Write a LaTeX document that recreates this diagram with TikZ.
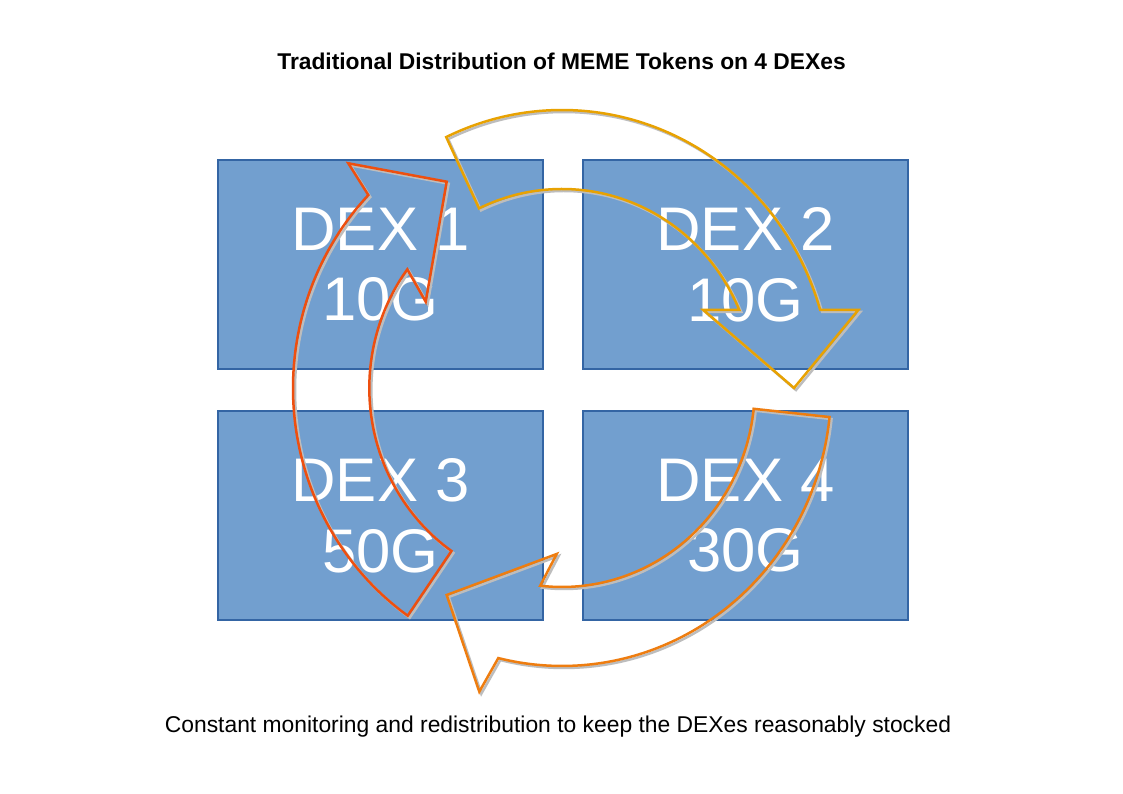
\documentclass[tikz,border=0pt]{standalone}
\usepackage{fontspec}
\setmainfont{Liberation Sans}
\definecolor{boxfill}{HTML}{729FCF}
\definecolor{boxline}{HTML}{3465A4}
\definecolor{arrowgold}{HTML}{E8A202}
\definecolor{arrowred}{HTML}{EE4F0F}
\definecolor{arroworange}{HTML}{EE7D10}
\definecolor{shadowgray}{HTML}{BDBDBD}

% circular arrow segments, relative to the common ellipse centre
\newcommand\dexArrowTop[1]{%
  \draw[#1] (115.5:269 and 278)
    arc[start angle=115.5, end angle=16.3, x radius=269, y radius=278]
    -- (296.3,78) -- (232,0) -- (141.3,78)
    -- (23.1:192.7 and 199)
    arc[start angle=23.1, end angle=115.5, x radius=192.7, y radius=199]
    -- cycle;}
\newcommand\dexArrowLeft[1]{%
  \draw[#1] (235:269 and 278)
    arc[start angle=235, end angle=136.05, x radius=269, y radius=278]
    -- (-213.7,224.7) -- (-115.3,206.3) -- (-136.3,86.3)
    -- (143.4:192.7 and 199)
    arc[start angle=143.4, end angle=235, x radius=192.7, y radius=199]
    -- cycle;}
\newcommand\dexArrowBottom[1]{%
  \draw[#1] (-6:269 and 278)
    arc[start angle=-6, end angle=-103.7, x radius=269, y radius=278]
    -- (-82.7,-303.7) -- (-115.3,-207) -- (-5.3,-166)
    -- (-96.5:192.7 and 199)
    arc[start angle=-96.5, end angle=-6, x radius=192.7, y radius=199]
    -- cycle;}

\begin{document}
\begin{tikzpicture}[x=1pt,y=1pt,
  dexbox/.style={draw=boxline, fill=boxfill, line width=2pt,
    minimum width=325pt, minimum height=209pt, inner sep=0pt,
    text=white, align=center, font=\fontsize{61.6}{70.7}\selectfont},
  titletext/.style={font=\bfseries\fontsize{22.8}{27}\selectfont, inner sep=0pt},
  captext/.style={font=\fontsize{22.85}{27}\selectfont, inner sep=0pt},
  shadowline/.style={draw=shadowgray, line width=2.5pt, xshift=2pt, yshift=-2pt},
  goldline/.style={draw=arrowgold, line width=2.5pt},
  redline/.style={draw=arrowred, line width=2.5pt},
  orangeline/.style={draw=arroworange, line width=2.5pt}]
\useasboundingbox (0,0) rectangle (1123,794);
\fill[white] (0,0) rectangle (1123,794);

\node[titletext, anchor=base] (title) at (561.5,724.7)
  {Traditional Distribution of MEME Tokens on 4 DEXes};

\node[dexbox] (dex1) at (380.5,529.5) {DEX 1\\10G};
\node[dexbox] (dex2) at (745.5,529.5) {DEX 2\\10G};
\node[dexbox] (dex3) at (380.5,278.5) {DEX 3\\50G};
\node[dexbox] (dex4) at (745.5,278.5) {DEX 4\\30G};

\begin{scope}[shift={(562,406)}]
  \dexArrowTop{shadowline}
  \dexArrowLeft{shadowline}
  \dexArrowBottom{shadowline}
  \dexArrowTop{goldline}
  \dexArrowLeft{redline}
  \dexArrowBottom{orangeline}
\end{scope}

\node[captext, anchor=base] (caption) at (558,61.3)
  {Constant monitoring and redistribution to keep the DEXes reasonably stocked};
\end{tikzpicture}
\end{document}
